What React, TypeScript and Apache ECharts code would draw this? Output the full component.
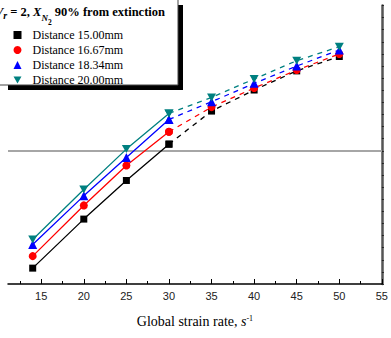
import React, { useEffect, useRef } from "react";
import * as echarts from "echarts";

const strainRates = [14, 20, 25, 30, 35, 40, 45, 50];
const xLabelValues = [15, 20, 25, 30, 35, 40, 45, 50, 55];
const xMinorTickValues = [12.5, 17.5, 22.5, 27.5, 32.5, 37.5, 42.5, 47.5, 52.5];

const seriesNames = ["Distance 15.00mm", "Distance 16.67mm", "Distance 18.34mm", "Distance 20.00mm"];
const dist1500 = [-9.69, -5.64, -2.45, 0.55, 3.28, 5.02, 6.6, 7.79];
const dist1667 = [-8.7, -4.51, -1.21, 1.57, 3.61, 5.18, 6.67, 7.99];
const dist1834 = [-7.74, -3.72, -0.55, 2.59, 4.05, 5.57, 7.0, 8.32];
const dist2000 = [-7.32, -3.19, 0.14, 3.09, 4.41, 5.93, 7.44, 8.6];
const extinctionRef = 0;

const INV_TRI = "path://M0,0L10,0L5,9Z";

export default function App() {
  const ref = useRef<HTMLDivElement>(null);

  useEffect(() => {
    if (!ref.current) return;
    const chart = echarts.init(ref.current, null, { renderer: "svg" });

    const allData = [dist1500, dist1667, dist1834, dist2000];
    const colors = ["#000000", "#ff0000", "#0000ff", "#008080"];
    const symbols = ["rect", "circle", "triangle", INV_TRI];
    const sizes: any[] = [7, 8, 9, [9, 8]];
    const splitIdx = 3; // index of x=30: solid up to it, dashed from it

    const series: any[] = [];
    allData.forEach((vals, i) => {
      const solid: any = {
        name: seriesNames[i],
        type: "line",
        data: strainRates.slice(0, splitIdx + 1).map((x, j) => [x, vals[j]]),
        symbol: symbols[i],
        symbolSize: sizes[i],
        itemStyle: { color: colors[i] },
        lineStyle: { color: colors[i], width: 1.3, type: "solid" },
        z: 3 + i,
      };
      if (i === 0) {
        solid.markLine = {
          silent: true,
          symbol: "none",
          label: { show: false },
          lineStyle: { color: "#a6a6a6", width: 2, type: "solid" },
          data: [{ yAxis: extinctionRef }],
          z: 1,
        };
      }
      series.push(solid);
      series.push({
        name: seriesNames[i],
        type: "line",
        data: strainRates.slice(splitIdx).map((x, j) => [x, vals[j + splitIdx]]),
        symbol: symbols[i],
        symbolSize: sizes[i],
        itemStyle: { color: colors[i] },
        lineStyle: { color: colors[i], width: 1.3, type: [5, 5] },
        z: 3 + i,
      });
    });

    chart.setOption({
      animation: false,
      backgroundColor: "#ffffff",
      grid: { left: 8, right: 3.8, top: 5.5, bottom: 54, containLabel: false },
      xAxis: [
        {
          type: "value",
          min: 11.1,
          max: 55,
          position: "bottom",
          axisLine: { show: true, onZero: false, lineStyle: { color: "#000", width: 1.5 } },
          axisTick: {
            show: true,
            inside: true,
            length: 5,
            customValues: xLabelValues,
            lineStyle: { color: "#000", width: 1 },
          },
          axisLabel: {
            show: true,
            customValues: xLabelValues,
            margin: 6,
            color: "#222",
            fontFamily: "Liberation Sans",
            fontSize: 11,
          },
          splitLine: { show: false },
          name: "{n|Global strain rate, }{i|s}{sup|-1}",
          nameLocation: "middle",
          nameGap: 30,
          nameTextStyle: {
            rich: {
              n: { fontFamily: "Liberation Serif", fontSize: 14, color: "#000", lineHeight: 16, verticalAlign: "top" },
              i: { fontFamily: "Liberation Serif", fontStyle: "italic", fontSize: 14, color: "#000", lineHeight: 16, verticalAlign: "top" },
              sup: { fontFamily: "Liberation Serif", fontSize: 8, color: "#000", lineHeight: 8, verticalAlign: "top" },
            },
          },
        },
        {
          type: "value",
          min: 11.1,
          max: 55,
          position: "bottom",
          axisLine: { show: false, onZero: false },
          axisTick: {
            show: true,
            inside: true,
            length: 3,
            customValues: xMinorTickValues,
            lineStyle: { color: "#000", width: 1 },
          },
          axisLabel: { show: false },
          splitLine: { show: false },
        },
      ],
      yAxis: {
        type: "value",
        position: "right",
        min: -11,
        max: 12,
        interval: 1,
        axisLine: { show: true, onZero: false, lineStyle: { color: "#555", width: 2.5 } },
        axisTick: { show: true, inside: false, length: 2, lineStyle: { color: "#222", width: 1 } },
        axisLabel: { show: false },
        splitLine: { show: false },
      },
      legend: {
        show: true,
        orient: "vertical",
        left: 13.5,
        top: 29,
        padding: 0,
        itemWidth: 8,
        itemHeight: 8,
        itemGap: 3,
        z: 20,
        textStyle: {
          fontFamily: "Liberation Serif",
          fontSize: 12,
          color: "#000",
          lineHeight: 12,
          padding: [0, 0, 0, 6],
        },
        data: seriesNames.map((n, i) => ({
          name: n,
          icon: i === 0 ? "rect" : i === 1 ? "circle" : i === 2 ? "triangle" : INV_TRI,
        })),
      },
      graphic: [
        { type: "rect", z: 15, shape: { x: 8, y: 5, width: 175, height: 85 }, style: { fill: "#000" }, silent: true },
        {
          type: "rect",
          z: 16,
          shape: { x: -2, y: -2, width: 180, height: 87 },
          style: { fill: "#fff", stroke: "#444", lineWidth: 1 },
          silent: true,
        },
        {
          type: "text",
          z: 21,
          x: -5,
          y: 5,
          style: {
            text: "{i|V}{r|r}{b| = 2, }{i|X}{sub|N}{ss|2}{b| 90% from extinction}",
            verticalAlign: "top",
            rich: {
              b: { fontFamily: "Liberation Serif", fontWeight: "bold", fontSize: 12.5, lineHeight: 14, verticalAlign: "top", fill: "#000" },
              i: { fontFamily: "Liberation Serif", fontWeight: "bold", fontStyle: "italic", fontSize: 12.5, lineHeight: 14, verticalAlign: "top", fill: "#000" },
              r: { fontFamily: "Liberation Serif", fontWeight: "bold", fontStyle: "italic", fontSize: 10, lineHeight: 10, padding: [5, 0, 0, 0], verticalAlign: "top", fill: "#000" },
              sub: { fontFamily: "Liberation Serif", fontWeight: "bold", fontStyle: "italic", fontSize: 9, lineHeight: 9, padding: [8, 0, 0, 0], verticalAlign: "top", fill: "#000" },
              ss: { fontFamily: "Liberation Serif", fontWeight: "bold", fontSize: 7.5, lineHeight: 7.5, padding: [13, 0, 0, 0], verticalAlign: "top", fill: "#000" },
            },
          },
        },
      ],
      series,
    });

    return () => chart.dispose();
  }, []);

  return (
    <div
      ref={ref}
      style={{ position: "absolute", left: 0, top: 0, width: 391, height: 338, background: "#fff" }}
    />
  );
}
